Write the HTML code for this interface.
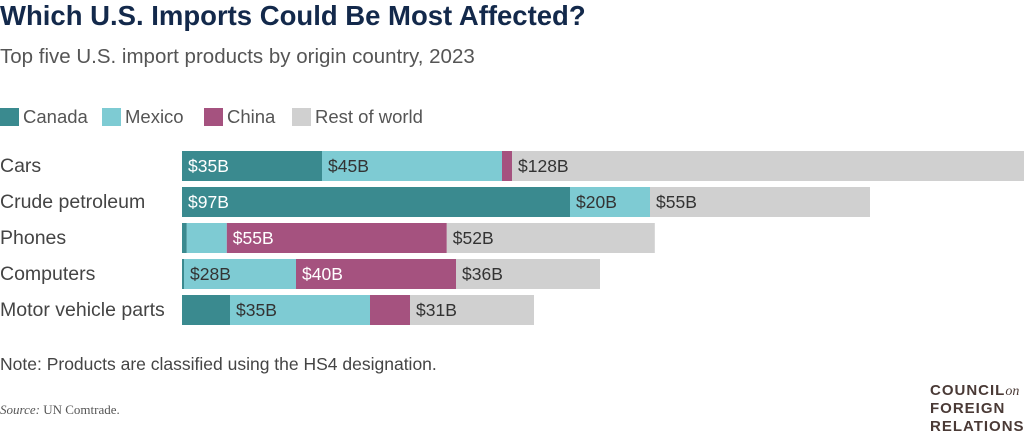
<!DOCTYPE html>
<html><head><meta charset="utf-8"><style>
body{margin:0;width:1024px;height:434px;background:#fff;overflow:hidden;font-family:"Liberation Sans",sans-serif}
</style></head><body>
<svg width="1024" height="434" xmlns="http://www.w3.org/2000/svg">
<text x="0" y="25" font-size="27.5" font-weight="bold" fill="#13294b">Which U.S. Imports Could Be Most Affected?</text>
<text x="0" y="63" font-size="20.5" fill="#555">Top five U.S. import products by origin country, 2023</text>
<g id="legend"></g>
<g id="bars"></g>
<text x="0" y="370" font-size="17.5" fill="#444">Note: Products are classified using the HS4 designation.</text>
<text x="0" y="414" font-size="13" fill="#555" font-family="Liberation Serif,serif"><tspan font-style="italic">Source:</tspan> UN Comtrade.</text>
<g fill="#4a3a36" font-weight="bold" font-size="15" letter-spacing="1">
<text x="930" y="395">COUNCIL<tspan font-family="Liberation Serif,serif" font-style="italic" font-weight="normal" font-size="14" letter-spacing="0">on</tspan></text>
<text x="930" y="413">FOREIGN</text>
<text x="930" y="431">RELATIONS</text>
</g>
</svg>
<script>
const categories=["Cars","Crude petroleum","Phones","Computers","Motor vehicle parts"];
const seriesNames=["Canada","Mexico","China","Rest of world"];
const canada=[35,97,1.2,0.5,12];
const mexico=[45,20,10,28,35];
const china=[2.5,0,55,40,10];
const rest=[128,55,52,36,31];
const colors=["#3a8a8f","#7ecbd3","#a5527f","#d0d0d0"];
const textCol=["#fff","#333","#fff","#333"];
const NS="http://www.w3.org/2000/svg";
const x0=182,scale=4.0,y0=151,pitch=36,bh=30;
const xs=v=>v*scale;
function mk(tag,attrs,parent){const e=document.createElementNS(NS,tag);for(const k in attrs)e.setAttribute(k,attrs[k]);parent.appendChild(e);return e;}
const lg=document.getElementById('legend');
const lx=[0,102,204,292];
seriesNames.forEach((n,i)=>{
 const r=mk('rect',{x:lx[i],y:108,width:19,height:18,fill:colors[i]},lg);
 
 
 const t=mk('text',{x:lx[i]+23,y:123,'font-size':18.5,fill:'#555'},lg);t.textContent=n;
 
 
});
const g=document.getElementById('bars');
const series=[canada,mexico,china,rest];
categories.forEach((c,ci)=>{
 const y=y0+ci*pitch;
 const t=mk('text',{x:0,y:y+21,'font-size':19.5,fill:'#444'},g);t.textContent=c;
 
 
 let acc=0;
 series.forEach((s,si)=>{
  const v=s[ci];const x=x0+xs(acc);const w=xs(v);
  if(v>0){
   const r=mk('rect',{x:x,y:y,width:w,height:bh,fill:colors[si]},g);
   
   
   if(v>=15){
    const l=mk('text',{x:x+6,y:y+21,'font-size':17.5,fill:textCol[si]},g);
    l.textContent='$'+Math.round(v)+'B';
    
    
   }
  }
  acc+=v;
 });
});
</script>
</body></html>
